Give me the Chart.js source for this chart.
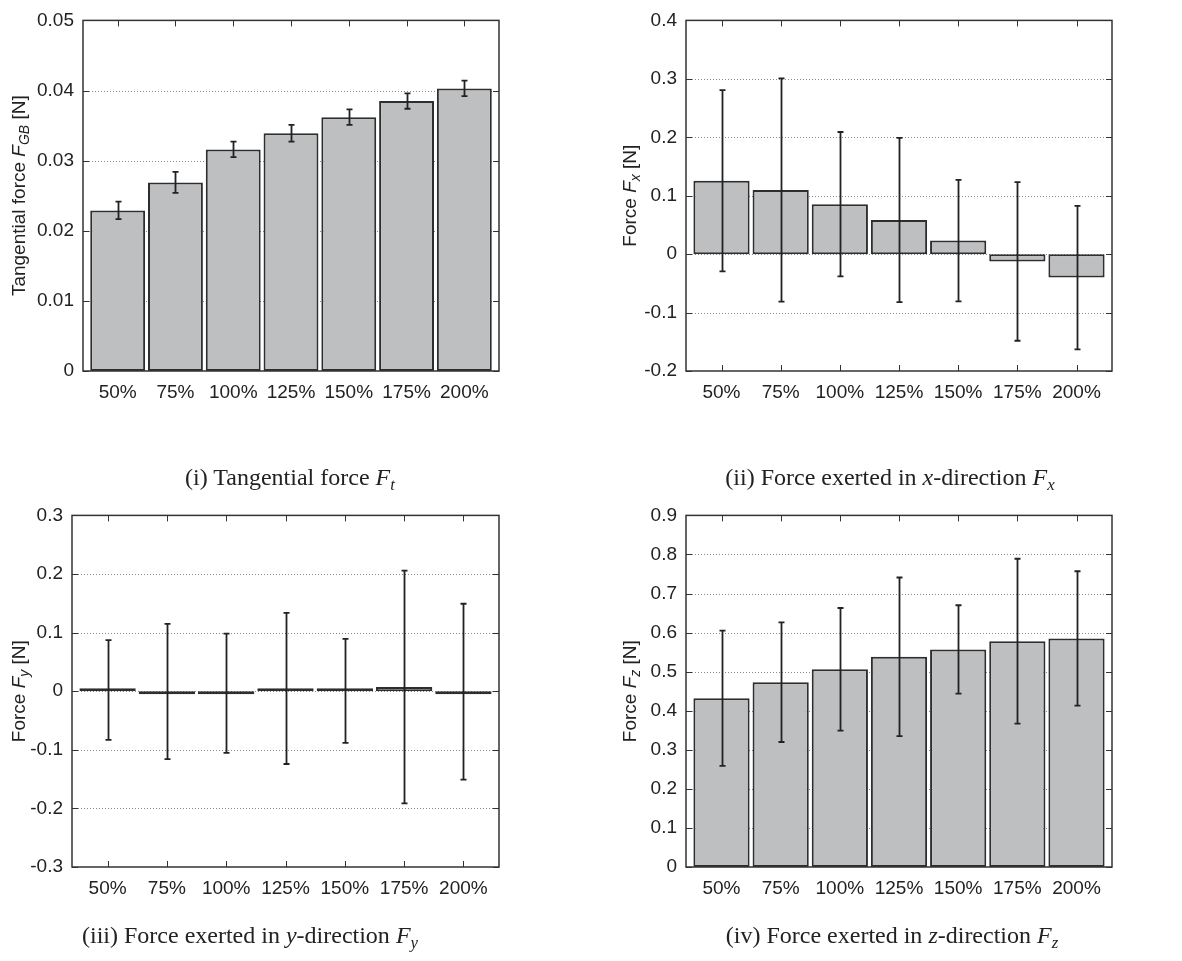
<!DOCTYPE html>
<html>
<head>
<meta charset="utf-8">
<script src="https://cdn.jsdelivr.net/npm/chart.js@4.4.0/dist/chart.umd.min.js"></script>
<style>
  body { margin: 0; background: #fff; width: 1182px; height: 961px; position: relative; overflow: hidden; }
  canvas { position: absolute; }
  .cap { position: absolute; font-family: "Liberation Serif", serif; font-size: 24px; color: #222;
         white-space: nowrap; transform: translate(-50%, -50%); }
  .cap sub { font-size: 70%; vertical-align: -0.3em; line-height: 0; }
</style>
</head>
<body>
<canvas id="c1" width="591" height="480" style="left:0;top:0"></canvas>
<canvas id="c2" width="591" height="480" style="left:591px;top:0"></canvas>
<canvas id="c3" width="591" height="480" style="left:0;top:495px"></canvas>
<canvas id="c4" width="591" height="480" style="left:591px;top:495px"></canvas>

<div class="cap" style="left:290px;top:477px">(i) Tangential force <i>F<sub>t</sub></i></div>
<div class="cap" style="left:890px;top:477px">(ii) Force exerted in <i>x</i>-direction <i>F<sub>x</sub></i></div>
<div class="cap" style="left:250px;top:935px">(iii) Force exerted in <i>y</i>-direction <i>F<sub>y</sub></i></div>
<div class="cap" style="left:892px;top:935px">(iv) Force exerted in <i>z</i>-direction <i>F<sub>z</sub></i></div>

<script>
const categories = ['50%', '75%', '100%', '125%', '150%', '175%', '200%'];

// tangential force F_GB
const ftMean = [0.0229, 0.0269, 0.0316, 0.0339, 0.0362, 0.0385, 0.0403];
const ftErr = [0.00125, 0.0015, 0.0011, 0.0012, 0.0011, 0.0011, 0.0011];
const ftTicks = [0, 0.01, 0.02, 0.03, 0.04, 0.05];

// force in x
const fxMean = [0.1256, 0.1097, 0.0854, 0.0583, 0.0232, -0.0124, -0.0402];
const fxErr = [0.155, 0.191, 0.1236, 0.1405, 0.104, 0.1358, 0.1227];
const fxTicks = [-0.2, -0.1, 0, 0.1, 0.2, 0.3, 0.4];

// force in y
const fyMean = [0.002, -0.0005, -0.0035, 0.0048, 0.0006, 0.0072, -0.0008];
const fyErr = [0.085, 0.1155, 0.1017, 0.129, 0.0887, 0.1986, 0.150];
const fyTicks = [-0.3, -0.2, -0.1, 0, 0.1, 0.2, 0.3];

// force in z
const fzMean = [0.432, 0.473, 0.506, 0.538, 0.557, 0.578, 0.585];
const fzErr = [0.173, 0.153, 0.157, 0.203, 0.113, 0.211, 0.172];
const fzTicks = [0, 0.1, 0.2, 0.3, 0.4, 0.5, 0.6, 0.7, 0.8, 0.9];

const SANS = '"Liberation Sans", Arial, sans-serif';
const INK = '#222';

// grid, inner ticks, error bars, frame and the y title
const frame = {
  id: 'frame',
  beforeDatasetsDraw(chart, args, o) {
    const { ctx, chartArea: a, scales: { x, y } } = chart;
    ctx.save();
    ctx.strokeStyle = '#8a8a8a';
    ctx.lineWidth = 1;
    ctx.setLineDash([1, 2]);
    y.ticks.forEach(t => {
      const py = Math.round(y.getPixelForValue(t.value)) + 0.5;
      if (py < a.top + 2 || py > a.bottom - 2) return;
      ctx.beginPath(); ctx.moveTo(a.left, py); ctx.lineTo(a.right, py); ctx.stroke();
    });
    ctx.setLineDash([]);
    ctx.strokeStyle = '#333';
    y.ticks.forEach(t => {
      const py = Math.round(y.getPixelForValue(t.value)) + 0.5;
      ctx.beginPath();
      ctx.moveTo(a.left, py); ctx.lineTo(a.left + 6, py);
      ctx.moveTo(a.right, py); ctx.lineTo(a.right - 6, py);
      ctx.stroke();
    });
    x.ticks.forEach(t => {
      const px = Math.round(x.getPixelForValue(t.value)) + 0.5;
      ctx.beginPath();
      ctx.moveTo(px, a.top); ctx.lineTo(px, a.top + 6);
      ctx.moveTo(px, a.bottom); ctx.lineTo(px, a.bottom - 6);
      ctx.stroke();
    });
    ctx.restore();
  },
  afterDatasetsDraw(chart, args, o) {
    const { ctx, chartArea: a, scales: { x, y } } = chart;
    const mean = chart.data.datasets[0].data;
    ctx.save();
    ctx.strokeStyle = INK;
    ctx.lineWidth = 1.8;
    o.errors.forEach((e, i) => {
      const px = Math.round(x.getPixelForValue(i)) + 0.5;
      const hi = y.getPixelForValue(mean[i].y + e);
      const lo = y.getPixelForValue(mean[i].y - e);
      ctx.beginPath();
      ctx.moveTo(px, hi); ctx.lineTo(px, lo);
      ctx.moveTo(px - 3, hi); ctx.lineTo(px + 3, hi);
      ctx.moveTo(px - 3, lo); ctx.lineTo(px + 3, lo);
      ctx.stroke();
    });
    ctx.strokeStyle = '#333';
    ctx.lineWidth = 1.5;
    ctx.strokeRect(a.left, a.top, a.right - a.left, a.bottom - a.top);

    // y title with italic symbol and subscript
    ctx.translate(o.titleX, (a.top + a.bottom) / 2);
    ctx.rotate(-Math.PI / 2);
    ctx.fillStyle = INK;
    ctx.textBaseline = 'middle';
    const size = 19;
    const fontOf = s => (s.it ? 'italic ' : '') + (s.sub ? Math.round(size * 0.72) : size) + 'px ' + SANS;
    let w = 0;
    o.title.forEach(s => { ctx.font = fontOf(s); w += ctx.measureText(s.t).width; });
    let cx = -w / 2;
    o.title.forEach(s => {
      ctx.font = fontOf(s);
      ctx.fillText(s.t, cx, s.sub ? 5 : 0);
      cx += ctx.measureText(s.t).width;
    });
    ctx.restore();
  }
};

function panel(id, mean, err, ticks, title, box, minBar) {
  const tickFont = { family: SANS, size: 19 };
  return new Chart(document.getElementById(id), {
    type: 'bar',
    data: {
      datasets: [{
        data: mean.map((v, i) => ({ x: i, y: v })),
        backgroundColor: '#bebfc1',
        borderColor: '#2e2e2e',
        borderWidth: 2,
        borderSkipped: false,
        categoryPercentage: 1,
        barPercentage: 0.95,
        minBarLength: minBar || 0
      }]
    },
    options: {
      responsive: false,
      animation: false,
      devicePixelRatio: 1,
      layout: { padding: { top: box.top, right: box.right, left: 0, bottom: 0 } },
      plugins: {
        legend: { display: false },
        tooltip: { enabled: false },
        frame: { errors: err, title: title, titleX: box.titleX }
      },
      scales: {
        x: {
          type: 'linear',
          offset: false,
          min: -0.6,
          max: 6.6,
          afterBuildTicks: s => { s.ticks = categories.map((c, i) => ({ value: i })); },
          afterFit: s => { s.height = 480 - box.bottom; },
          ticks: { callback: v => categories[v], autoSkip: false, maxRotation: 0, padding: 10, font: tickFont, color: INK },
          grid: { display: false, drawTicks: false, offset: false },
          border: { display: false }
        },
        y: {
          min: ticks[0],
          max: ticks[ticks.length - 1],
          afterBuildTicks: s => { s.ticks = ticks.map(v => ({ value: v })); },
          afterFit: s => { s.width = box.left; },
          ticks: { callback: v => String(v), padding: 9, font: tickFont, color: INK },
          grid: { display: false, drawTicks: false },
          border: { display: false }
        }
      }
    },
    plugins: [frame]
  });
}

panel('c1', ftMean, ftErr, ftTicks,
  [{ t: 'Tangential force ' }, { t: 'F', it: true }, { t: 'GB', it: true, sub: true }, { t: ' [N]' }],
  { left: 83, right: 92, top: 17, bottom: 371, titleX: 20 });
panel('c2', fxMean, fxErr, fxTicks,
  [{ t: 'Force ' }, { t: 'F', it: true }, { t: 'x', it: true, sub: true }, { t: ' [N]' }],
  { left: 95, right: 70, top: 17, bottom: 371, titleX: 40 });
panel('c3', fyMean, fyErr, fyTicks,
  [{ t: 'Force ' }, { t: 'F', it: true }, { t: 'y', it: true, sub: true }, { t: ' [N]' }],
  { left: 72, right: 92, top: 17, bottom: 372, titleX: 20 }, 3);
panel('c4', fzMean, fzErr, fzTicks,
  [{ t: 'Force ' }, { t: 'F', it: true }, { t: 'z', it: true, sub: true }, { t: ' [N]' }],
  { left: 95, right: 70, top: 17, bottom: 372, titleX: 40 });
</script>
</body>
</html>
